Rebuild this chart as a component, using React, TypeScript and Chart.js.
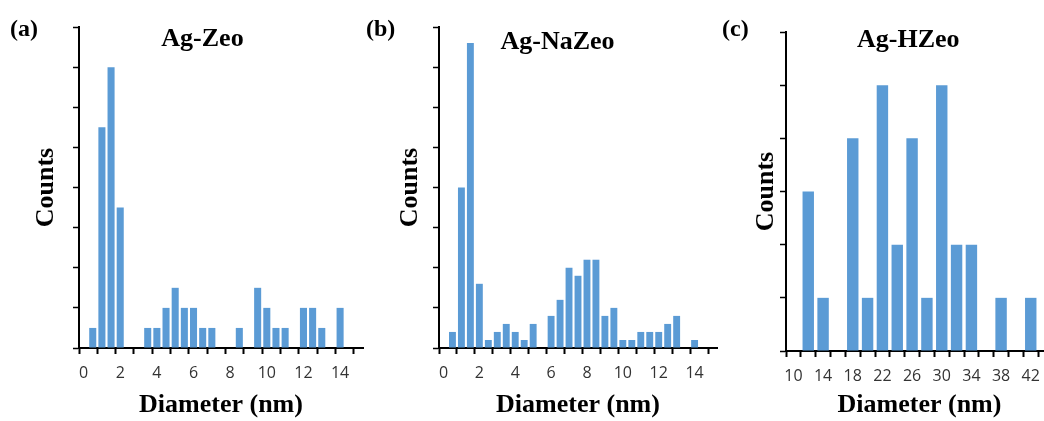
import { useEffect, useRef } from 'react';
import { Chart, registerables } from 'chart.js';

Chart.register(...registerables);

// ---------- data ----------
const diameterLabelsAB = ['0', '0.5', '1', '1.5', '2', '2.5', '3', '3.5', '4', '4.5', '5', '5.5', '6', '6.5', '7', '7.5', '8', '8.5', '9', '9.5', '10', '10.5', '11', '11.5', '12', '12.5', '13', '13.5', '14', '14.5', '15'];
const agZeoCounts = [0, 1, 11, 14, 7, 0, 0, 1, 1, 2, 3, 2, 2, 1, 1, 0, 0, 1, 0, 3, 2, 1, 1, 0, 2, 2, 1, 0, 2, 0, 0];
const agNaZeoCounts = [0, 2, 20, 38, 8, 1, 2, 3, 2, 1, 3, 0, 4, 6, 10, 9, 11, 11, 4, 5, 1, 1, 2, 2, 2, 3, 4, 0, 1, 0, 0];
const diameterLabelsC = ['10', '12', '14', '16', '18', '20', '22', '24', '26', '28', '30', '32', '34', '36', '38', '40', '42', '44'];
const agHZeoCounts = [0, 3, 1, 0, 4, 1, 5, 2, 4, 1, 5, 2, 2, 0, 1, 0, 1, 0];

const yMaxA = 16;
const yStepA = 2;
const yMaxB = 40;
const yStepB = 5;
const yMaxC = 6;
const yStepC = 1;

const panelTitles = ['Ag-Zeo', 'Ag-NaZeo', 'Ag-HZeo'];
const panelLetters = ['(a)', '(b)', '(c)'];
const xAxisTitle = 'Diameter (nm)';
const yAxisTitle = 'Counts';

// ---------- style ----------
const BAR_COLOR = '#5b9bd5';
const SERIF = "'Liberation Serif', 'Times New Roman', serif";
const TICK_FONT = "'Open Sans', 'DejaVu Sans', sans-serif";

type PanelProps = {
  left: number;
  width: number;
  height: number;
  plotLeft: number;
  plotRight: number;
  plotTop: number;
  plotBottom: number;
  labels: string[];
  counts: number[];
  yMax: number;
  yStep: number;
  labelEvery: number;
  tickEvery: number;
  countsPad: number;
};

function HistPanel(p: PanelProps) {
  const ref = useRef<HTMLCanvasElement | null>(null);
  useEffect(() => {
    if (!ref.current) return;
    const chart = new Chart(ref.current, {
      type: 'bar',
      data: {
        labels: p.labels,
        datasets: [
          {
            data: p.counts,
            backgroundColor: BAR_COLOR,
            borderWidth: 0,
            barPercentage: 0.77,
            categoryPercentage: 1,
          },
        ],
      },
      options: {
        responsive: false,
        animation: false,
        devicePixelRatio: 1,
        layout: {
          padding: { left: 0, top: p.plotTop, right: p.width - p.plotRight, bottom: 0 },
        },
        plugins: {
          legend: { display: false },
          tooltip: { enabled: false },
          title: { display: false },
        },
        scales: {
          x: {
            type: 'category',
            z: 1,
            offset: true,
            grid: {
              offset: true,
              drawOnChartArea: false,
              drawTicks: true,
              tickLength: 6,
              tickWidth: 2,
              tickColor: (ctx: any) =>
                ctx.index !== undefined && ctx.index % p.tickEvery === 0 ? '#000000' : 'rgba(0,0,0,0)',
            },
            border: { display: true, color: '#000000', width: 2 },
            ticks: {
              autoSkip: false,
              maxRotation: 0,
              minRotation: 0,
              padding: 10,
              color: '#333333',
              font: { family: TICK_FONT, size: 16 },
              callback: function (this: any, value: any, index: number) {
                return index % p.labelEvery === 0 ? this.getLabelForValue(value) : '';
              },
            },
            title: {
              display: true,
              text: xAxisTitle,
              color: '#000000',
              font: { family: SERIF, size: 26, weight: 'bold' },
              padding: { top: 0, bottom: 0 },
            },
            afterFit: (scale: any) => {
              scale.height = p.height - p.plotBottom;
            },
          },
          y: {
            type: 'linear',
            z: 1,
            min: 0,
            max: p.yMax,
            grid: {
              drawOnChartArea: false,
              drawTicks: true,
              tickLength: 6,
              tickWidth: 1.5,
              tickColor: '#000000',
            },
            border: { display: true, color: '#000000', width: 2 },
            ticks: { display: false, stepSize: p.yStep },
            title: {
              display: true,
              text: yAxisTitle,
              color: '#000000',
              font: { family: SERIF, size: 26, weight: 'bold' },
              padding: { top: p.countsPad, bottom: 0 },
            },
            afterFit: (scale: any) => {
              scale.width = p.plotLeft;
            },
          },
        },
      } as any,
    });
    return () => chart.destroy();
  }, []);
  return (
    <canvas
      ref={ref}
      width={p.width}
      height={p.height}
      style={{ position: 'absolute', left: p.left, top: 0, width: p.width, height: p.height }}
    />
  );
}

function Txt(props: { x: number; baseline: number; size: number; text: string; center?: boolean }) {
  const { x, baseline, size, text, center } = props;
  const top = baseline - 0.8375 * size;
  const w = 240;
  return (
    <div
      style={{
        position: 'absolute',
        left: center ? x - w / 2 : x,
        width: center ? w : undefined,
        top,
        fontFamily: SERIF,
        fontWeight: 'bold',
        fontSize: size,
        lineHeight: `${size}px`,
        textAlign: center ? 'center' : 'left',
        color: '#000',
        whiteSpace: 'nowrap',
      }}
    >
      {text}
    </div>
  );
}

export default function App() {
  return (
    <div
      style={{
        position: 'absolute',
        left: 0,
        top: 0,
        width: 1044,
        height: 421,
        overflow: 'hidden',
        background: '#ffffff',
      }}
    >
      <HistPanel
        left={0}
        width={380}
        height={421}
        plotLeft={79}
        plotRight={363}
        plotTop={27}
        plotBottom={348}
        labels={diameterLabelsAB}
        counts={agZeoCounts}
        yMax={yMaxA}
        yStep={yStepA}
        labelEvery={4}
        tickEvery={2}
        countsPad={31}
      />
      <HistPanel
        left={380}
        width={350}
        height={421}
        plotLeft={59}
        plotRight={337}
        plotTop={27}
        plotBottom={348}
        labels={diameterLabelsAB}
        counts={agNaZeoCounts}
        yMax={yMaxB}
        yStep={yStepB}
        labelEvery={4}
        tickEvery={2}
        countsPad={15}
      />
      <HistPanel
        left={730}
        width={330}
        height={421}
        plotLeft={56}
        plotRight={323}
        plotTop={32}
        plotBottom={351}
        labels={diameterLabelsC}
        counts={agHZeoCounts}
        yMax={yMaxC}
        yStep={yStepC}
        labelEvery={2}
        tickEvery={1}
        countsPad={21}
      />
      <Txt x={10} baseline={36} size={24} text={panelLetters[0]} />
      <Txt x={366} baseline={36} size={24} text={panelLetters[1]} />
      <Txt x={722} baseline={36} size={24} text={panelLetters[2]} />
      <Txt x={202.5} baseline={46.5} size={26} text={panelTitles[0]} center />
      <Txt x={557.5} baseline={49.3} size={26} text={panelTitles[1]} center />
      <Txt x={908.3} baseline={48} size={26} text={panelTitles[2]} center />
    </div>
  );
}
